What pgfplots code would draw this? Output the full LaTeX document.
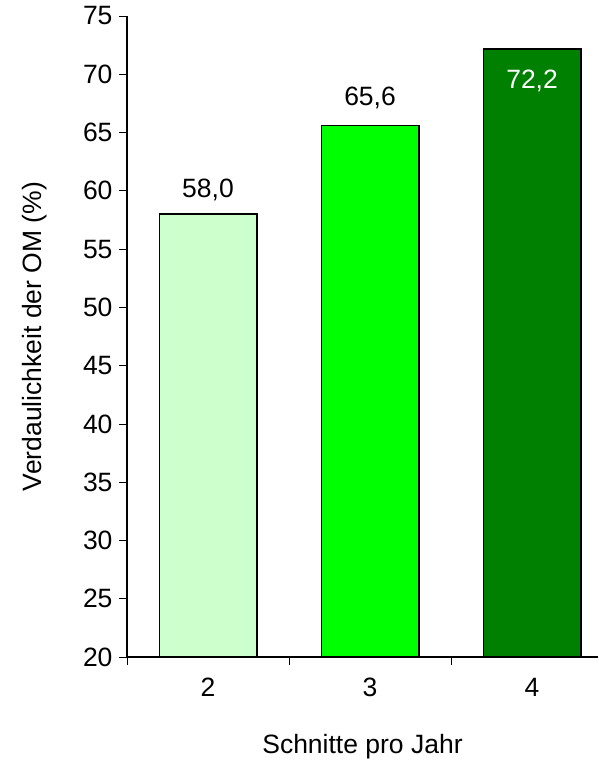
\documentclass[border=0pt]{standalone}
\usepackage{pgfplots}
\pgfplotsset{compat=1.18}
\usepackage{fontspec}
\setmainfont{Liberation Sans}
\definecolor{c1}{HTML}{CCFFCC}
\definecolor{c2}{HTML}{00FF00}
\definecolor{c3}{HTML}{008000}
\begin{document}
\begin{tikzpicture}
\begin{axis}[
  scale only axis, width=471bp, height=641bp,
  xmin=-0.5, xmax=2.407, ymin=20, ymax=75,
  axis lines*=left,
  axis line style={line width=1.6bp, black},
  ytick={20,25,...,75},
  yticklabel style={xshift=-3bp},
  xtick={-0.5,0.5,1.5}, xticklabels={},
  extra x ticks={0,1,2}, extra x tick labels={2,3,4},
  extra x tick style={major tick length=0pt, tick style={draw=none},
     xticklabel style={anchor=base, inner sep=0pt, yshift=-39bp}},
  tick align=outside, major tick length=8bp,
  tick style={line width=0.8bp, black},
  font=\fontsize{26.5bp}{31bp}\selectfont,
  /pgf/number format/assume math mode=true,
  every axis y label/.style={at={(rel axis cs:0,0.5)}, xshift=-92bp, rotate=90, anchor=center},
  every axis x label/.style={at={(rel axis cs:0.5,0)}, yshift=-96bp, anchor=base},
  ylabel={Verdaulichkeit der OM (\%)},
  xlabel={Schnitte pro Jahr},
  ybar, bar width=0.6,
  nodes near coords={\pgfmathprintnumber[use comma,fixed,fixed zerofill,precision=1]{\pgfplotspointmeta}},
]
\addplot[fill=c1, draw=black, line width=1.8bp, bar shift=0pt,
  every node near coord/.style={anchor=base, inner sep=0pt, yshift=17bp, black}] coordinates {(0,58.0)};
\addplot[fill=c2, draw=black, line width=1.8bp, bar shift=0pt,
  every node near coord/.style={anchor=base, inner sep=0pt, yshift=20bp, black}] coordinates {(1,65.6)};
\addplot[fill=c3, draw=black, line width=1.8bp, bar shift=0pt,
  every node near coord/.style={anchor=base, inner sep=0pt, yshift=-40bp, white}] coordinates {(2,72.2)};
\coordinate (BL) at (rel axis cs:0,0);
\coordinate (TR) at (rel axis cs:1,1);
\end{axis}
\pgfresetboundingbox
\path ([shift={(-127bp,-105bp)}]BL) rectangle ([shift={(0bp,16bp)}]TR);
\end{tikzpicture}
\end{document}
